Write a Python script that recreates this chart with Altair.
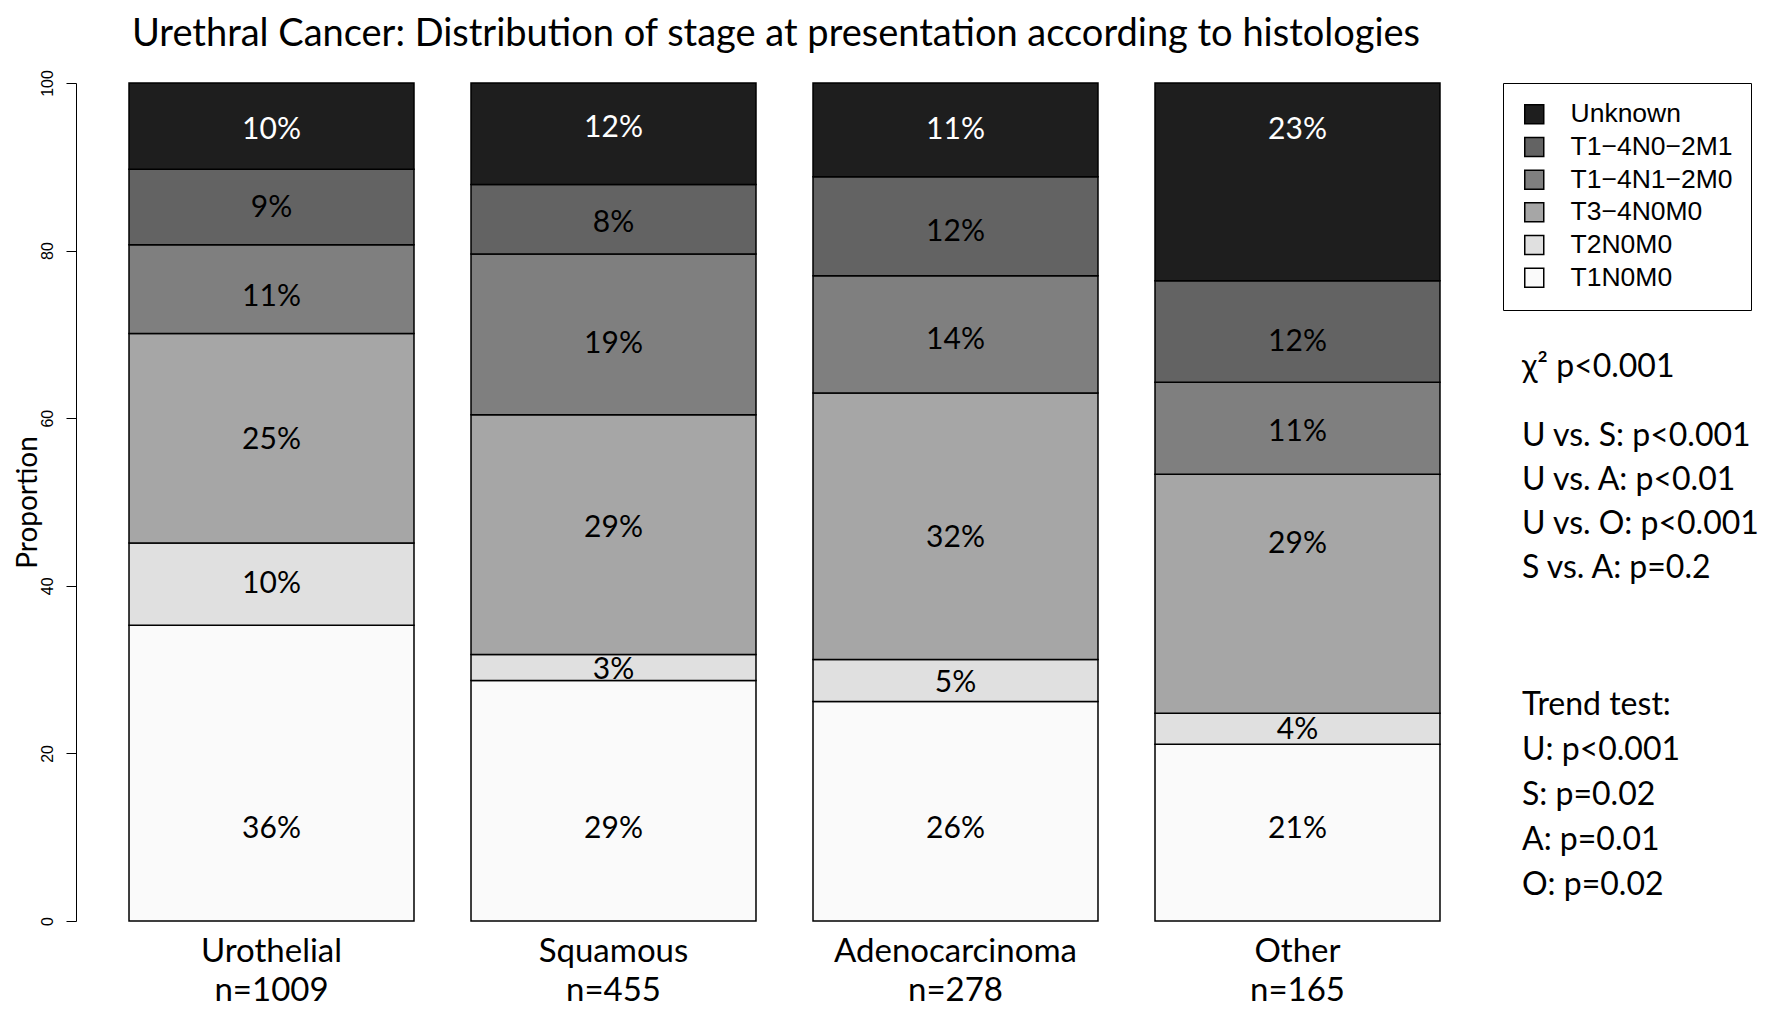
import altair as alt
import pandas as pd

# ---- data ----
categories = ["Urothelial", "Squamous", "Adenocarcinoma", "Other"]
n_cases = [1009, 455, 278, 165]

# stages from bottom of the stack to the top
stages = ["T1N0M0", "T2N0M0", "T3−4N0M0", "T1−4N1−2M0", "T1−4N0−2M1", "Unknown"]
colors = ["#fafafa", "#e0e0e0", "#a6a6a6", "#7f7f7f", "#636363", "#1e1e1e"]

# segment heights (proportion, %) per histology
t1n0m0 = [35.3, 28.7, 26.2, 21.1]
t2n0m0 = [9.8, 3.1, 5.0, 3.7]
t34n0m0 = [25.0, 28.6, 31.8, 28.5]
n12m0 = [10.6, 19.2, 14.0, 11.0]
m1 = [9.0, 8.3, 11.8, 12.1]
unknown = [10.3, 12.1, 11.2, 23.6]

# printed percentage labels
lab_t1n0m0 = ["36%", "29%", "26%", "21%"]
lab_t2n0m0 = ["10%", "3%", "5%", "4%"]
lab_t34n0m0 = ["25%", "29%", "32%", "29%"]
lab_n12m0 = ["11%", "19%", "14%", "11%"]
lab_m1 = ["9%", "8%", "12%", "12%"]
lab_unknown = ["10%", "12%", "11%", "23%"]

# where each label sits on the proportion axis
at_t1n0m0 = [11.3, 11.3, 11.3, 11.3]
at_t2n0m0 = [40.6, 30.3, 28.7, 23.1]
at_t34n0m0 = [57.8, 47.3, 46.1, 45.3]
at_n12m0 = [74.8, 69.2, 69.7, 58.7]
at_m1 = [85.5, 83.6, 82.6, 69.4]
at_unknown = [94.8, 95.0, 94.8, 94.8]

chi_lines = ["χ² p<0.001"]
pair_lines = ["U vs. S: p<0.001", "U vs. A: p<0.01", "U vs. O: p<0.001", "S vs. A: p=0.2"]
trend_lines = ["Trend test:", "U: p<0.001", "S: p=0.02", "A: p=0.01", "O: p=0.02"]

title_text = "Urethral Cancer: Distribution of stage at presentation according to histologies"

# ---- table ----
seg = [t1n0m0, t2n0m0, t34n0m0, n12m0, m1, unknown]
labs = [lab_t1n0m0, lab_t2n0m0, lab_t34n0m0, lab_n12m0, lab_m1, lab_unknown]
ats = [at_t1n0m0, at_t2n0m0, at_t34n0m0, at_n12m0, at_m1, at_unknown]
hist_labels = [f"{c}|n={n}" for c, n in zip(categories, n_cases)]

rows = []
for i, h in enumerate(hist_labels):
    base = 0.0
    for j, s in enumerate(stages):
        v = seg[j][i]
        rows.append({"hist": h, "stage": s, "y0": base, "y1": base + v,
                     "pct": labs[j][i], "at": ats[j][i]})
        base += v
df = pd.DataFrame(rows)

W, H = 1417, 838

x_enc = alt.X(
    "hist:N", sort=hist_labels,
    scale=alt.Scale(paddingInner=0.1667, paddingOuter=0.155),
    axis=alt.Axis(title=None, labelExpr="split(datum.label, '|')", domain=False,
                  ticks=False, labelFont="Lato", labelFontSize=33, labelColor="black",
                  labelPadding=14, labelBaseline="top", labelLineHeight=39, labelAngle=0,
                  labelLimit=500),
)

bars = alt.Chart(df).mark_bar(stroke="black", strokeWidth=1.5).encode(
    x=x_enc,
    y=alt.Y("y0:Q", scale=alt.Scale(domain=[0, 100], nice=False),
            axis=alt.Axis(values=[0, 20, 40, 60, 80, 100], title="Proportion", grid=False,
                          domainColor="black", tickColor="black", tickSize=10,
                          labelFont="Liberation Sans", labelFontSize=16, labelColor="black",
                          labelAngle=270, labelAlign="center", labelBaseline="alphabetic",
                          labelPadding=14,
                          titleFont="Lato", titleFontSize=28, titleFontWeight="normal",
                          titleColor="black", titleAngle=270, titleX=-40, titleY=H / 2,
                          titleAlign="center", titleBaseline="alphabetic")),
    y2="y1:Q",
    color=alt.Color("stage:N",
                    scale=alt.Scale(domain=stages[::-1], range=colors[::-1]),
                    legend=alt.Legend(title=None, orient="none", legendX=1503 - 76, legendY=0,
                                      direction="vertical", strokeColor="black", padding=18,
                                      symbolType="square", symbolSize=361,
                                      symbolStrokeColor="black", symbolStrokeWidth=1.5,
                                      symbolOpacity=1, labelFont="Liberation Sans",
                                      labelFontSize=26.5, labelColor="black", labelOffset=23,
                                      rowPadding=5.7, labelLimit=400)),
)

pct_text = alt.Chart(df).mark_text(font="Lato", fontSize=30, baseline="middle", align="center",
                                   dy=3).encode(
    x=alt.X("hist:N", sort=hist_labels),
    y=alt.Y("at:Q"),
    text="pct:N",
    color=alt.condition(alt.datum.stage == "Unknown", alt.value("white"), alt.value("black")),
)

dummy = pd.DataFrame({"k": [0]})


def block(lines, top, lh, size=32, align="left", x=1522 - 76):
    return alt.Chart(dummy).mark_text(
        text=lines, font="Lato", fontSize=size, align=align, baseline="alphabetic",
        lineHeight=lh, color="black",
    ).encode(x=alt.value(x), y=alt.value(top))


title_mark = block([title_text], 46 - 83, 40, size=38, align="center", x=776 - 76)

chart = alt.layer(
    bars, pct_text,
    block(chi_lines, 294, 44),
    block(pair_lines, 363, 44),
    block(trend_lines, 632, 45),
    title_mark,
).properties(
    width=W, height=H,
    padding={"left": 68, "top": 75, "right": 271, "bottom": 86},
    autosize=alt.AutoSizeParams(type="none"),
).configure(background="white", view=alt.ViewConfig(stroke="transparent"))

chart.save("out.html", embed_options={"renderer": "svg", "actions": False})
